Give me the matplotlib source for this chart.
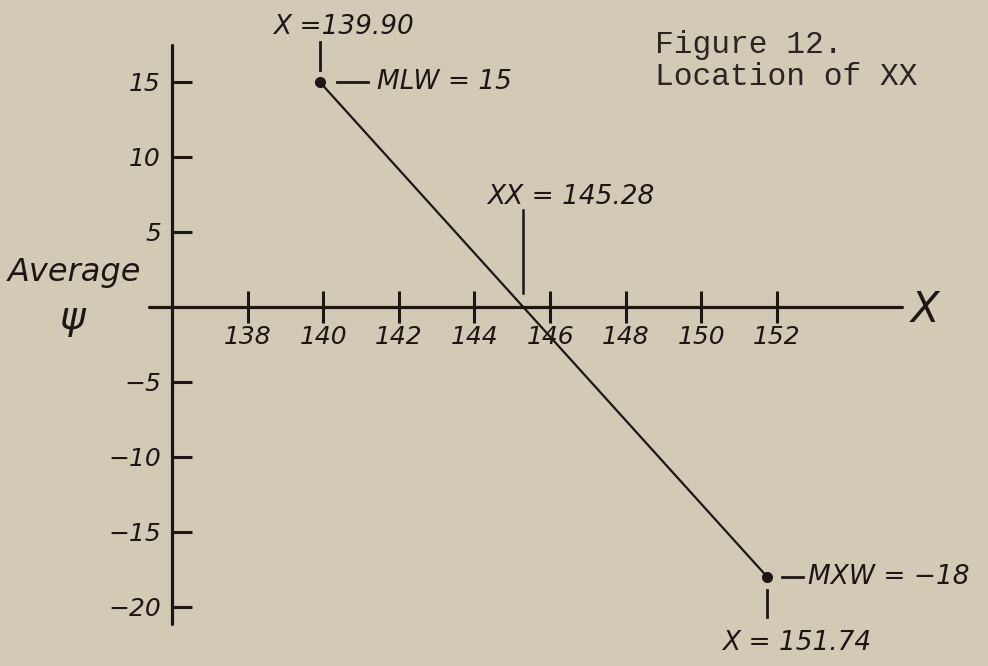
import matplotlib
matplotlib.use("Agg")
import matplotlib.pyplot as plt

# ---- data ----
x_points = [139.90, 151.74]          # X values of the two measured points
psi_points = [15, -18]               # average psi at those points
xx_value = 145.28                    # zero crossing (location of XX)
x_ticks = [138, 140, 142, 144, 146, 148, 150, 152]
y_ticks = [15, 10, 5, -5, -10, -15, -20]
y_tick_labels = ["15", "10", "5", "\u22125", "\u221210", "\u221215", "\u221220"]
point_labels = ["MLW = 15", "MXW = \u221218"]
x_labels = ["X =139.90", "X = 151.74"]
xx_label = "XX = 145.28"
title_lines = ["Figure 12.", "Location of XX"]

ink = "#1c1616"
bg = "#d3cab6"
hand = dict(family=["DejaVu Sans"], style="italic", color=ink)

fig = plt.figure(figsize=(9.88, 6.66), dpi=100)
fig.patch.set_facecolor(bg)
ax = fig.add_axes([0, 0, 1, 1])
ax.set_facecolor(bg)
ax.set_xlim(131.447, 157.585)
ax.set_ylim(-23.953, 20.447)

# hand-drawn style axes through the origin-like position
for s in ["top", "right"]:
    ax.spines[s].set_visible(False)
ax.spines["left"].set_position(("data", 136.0))
ax.spines["bottom"].set_position(("data", 0))
ax.spines["left"].set_bounds(-21.15, 17.45)
ax.spines["bottom"].set_bounds(135.4, 155.3)
for s in ["left", "bottom"]:
    ax.spines[s].set_linewidth(2.3)
    ax.spines[s].set_color(ink)
    ax.spines[s].set_capstyle("round")

ax.set_xticks(x_ticks)
ax.set_xticklabels([str(t) for t in x_ticks])
ax.set_yticks(y_ticks)
ax.set_yticklabels(y_tick_labels)
ax.tick_params(axis="x", direction="inout", length=23, width=2.2, color=ink, pad=1.5)
ax.tick_params(axis="y", direction="in", length=14.5, width=2.2, color=ink, pad=8)
for lab in ax.get_xticklabels() + ax.get_yticklabels():
    lab.set_family(["DejaVu Sans"])
    lab.set_style("italic")
    lab.set_fontsize(18)
    lab.set_color(ink)

# main line with end points
ax.plot(x_points, psi_points, color=ink, lw=1.6, marker="o", ms=7,
        solid_capstyle="round", zorder=3)

# annotation for first point
ax.plot([x_points[0], x_points[0]], [psi_points[0] + 0.8, psi_points[0] + 2.65],
        color=ink, lw=2.0)
ax.text(138.67, 18.65, x_labels[0], ha="left", va="center", fontsize=19, **hand)
ax.plot([x_points[0] + 0.45, x_points[0] + 1.28], [psi_points[0], psi_points[0]],
        color=ink, lw=2.0)
ax.text(141.42, psi_points[0], point_labels[0], ha="left", va="center",
        fontsize=19, **hand)

# annotation for second point
ax.plot([x_points[1] + 0.39, x_points[1] + 0.95], [psi_points[1], psi_points[1]],
        color=ink, lw=2.0)
ax.text(152.82, psi_points[1], point_labels[1], ha="left", va="center",
        fontsize=19, **hand)
ax.plot([x_points[1], x_points[1]], [psi_points[1] - 0.9, psi_points[1] - 2.7],
        color=ink, lw=2.0)
ax.text(150.55, -22.42, x_labels[1], ha="left", va="center", fontsize=19, **hand)

# XX marker
ax.plot([xx_value, xx_value], [0.9, 6.45], color=ink, lw=1.8)
ax.text(144.33, 7.33, xx_label, ha="left", va="center", fontsize=19, **hand)

# axis names
ax.text(155.92, -0.22, "X", ha="center", va="center", fontsize=30, **hand)
ax.text(131.66, 2.31, "Average", ha="left", va="center", fontsize=23, **hand)
ax.text(133.35, -0.75, "\u03c8", ha="center", va="center", fontsize=28, **hand)

# typed caption
mono = dict(family=["Liberation Mono", "DejaVu Sans Mono"], color="#2a2424")
ax.text(148.78, 16.91, title_lines[0], ha="left", va="baseline", fontsize=22.5, **mono)
ax.text(148.78, 14.78, title_lines[1], ha="left", va="baseline", fontsize=22.5, **mono)

fig.savefig("out.png", dpi=100, facecolor=bg)
